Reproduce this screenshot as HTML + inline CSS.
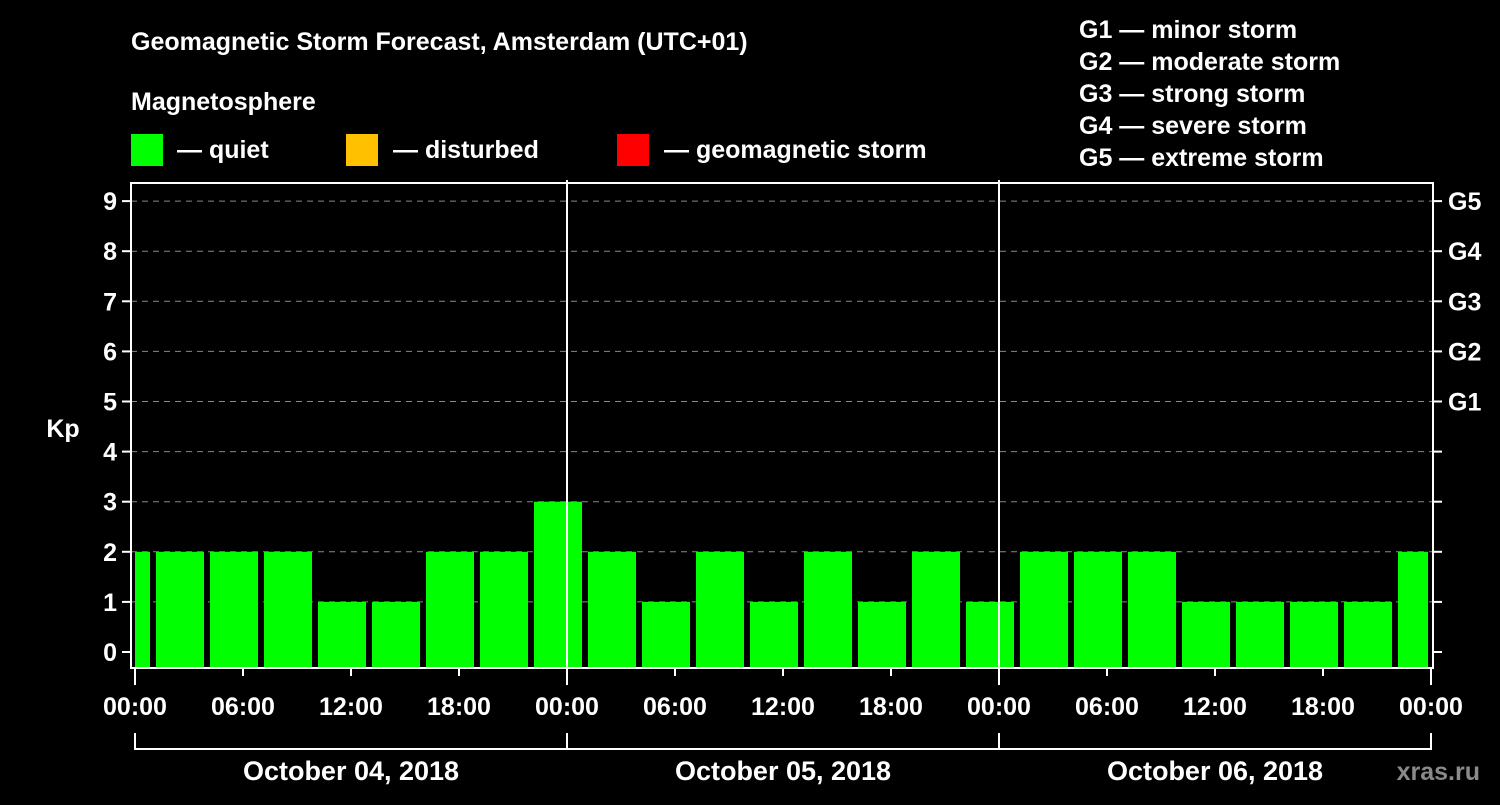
<!DOCTYPE html>
<html><head><meta charset="utf-8"><style>
body{margin:0;background:#000;width:1500px;height:800px;overflow:hidden}
text{font-family:"Liberation Sans",sans-serif;font-weight:bold;fill:#fff}
</style></head><body>
<svg id="c" width="1500" height="800" xmlns="http://www.w3.org/2000/svg">
<text x="131" y="50" font-size="25">Geomagnetic Storm Forecast, Amsterdam (UTC+01)</text>
<text x="131" y="110" font-size="25">Magnetosphere</text>
<g>
<rect x="131" y="134" width="32" height="32" fill="#00ff00"/>
<text x="177" y="158" font-size="25">— quiet</text>
<rect x="346" y="134" width="32" height="32" fill="#ffc000"/>
<text x="393" y="158" font-size="25">— disturbed</text>
<rect x="617" y="134" width="32" height="32" fill="#ff0000"/>
<text x="664" y="158" font-size="25">— geomagnetic storm</text>
</g>
<g font-size="25">
<text x="1079" y="38">G1 — minor storm</text>
<text x="1079" y="70">G2 — moderate storm</text>
<text x="1079" y="102">G3 — strong storm</text>
<text x="1079" y="134">G4 — severe storm</text>
<text x="1079" y="166">G5 — extreme storm</text>
</g>
<text x="63" y="437" font-size="25" text-anchor="middle">Kp</text>
<text x="1480" y="780" font-size="25" text-anchor="end" fill="#888" style="fill:#8a8a8a">xras.ru</text>
<g id="grid"></g><g id="bars"></g><g id="axes"></g>
</svg>
<script>
const kpValues=[2,2,2,2,1,1,2,2,3,2,1,2,1,2,1,2,1,2,2,2,1,1,1,1,2];
const kpTicks=[0,1,2,3,4,5,6,7,8,9];
const gLabels=["","","","","","G1","G2","G3","G4","G5"];
const hourLabels=["00:00","06:00","12:00","18:00"];
const dayLabels=["October 04, 2018","October 05, 2018","October 06, 2018"];
const NS="http://www.w3.org/2000/svg";
const L=131,R=1433,T=183,B=668,X0=135,PXH=18;
const y=v=>652-50.1*v;
const x=h=>X0+h*PXH;
function mk(p,tag,a){const e=document.createElementNS(NS,tag);for(const k in a)e.setAttribute(k,a[k]);document.getElementById(p).appendChild(e);return e;}
kpTicks.forEach(v=>{
 if(v>0&&v<=9){const g=mk('grid','line',{x1:L,x2:R,y1:y(v),y2:y(v),stroke:'#888','stroke-dasharray':'6,5','stroke-width':1});
 
 }
 const t=mk('axes','line',{x1:L-9,x2:L,y1:y(v),y2:y(v),stroke:'#fff','stroke-width':2});
 
 
 const t2=mk('axes','line',{x1:R,x2:R+9,y1:y(v),y2:y(v),stroke:'#fff','stroke-width':2});
 
 
 const lb=mk('axes','text',{x:L-14,y:y(v)+9,'font-size':25,'text-anchor':'end'});lb.textContent=v;
 
 
 if(gLabels[v]){const gl=mk('axes','text',{x:R+15,y:y(v)+9,'font-size':25});gl.textContent=gLabels[v];
 
 }
});
kpValues.forEach((v,i)=>{
 let h0=-2+3*i,h1=h0+3;
 let a=Math.max(x(h0)+3,x(0)),b=Math.min(x(h1)-3,x(72)-3);
 const r=mk('bars','rect',{x:a,y:y(v),width:b-a,height:B-y(v),fill:v>=5?'#ff0000':v>=4?'#ffc000':'#00ff00'});
 
 
});
const fr=mk('axes','rect',{x:L,y:T,width:R-L,height:B-T,fill:'none',stroke:'#fff','stroke-width':2});


for(let d=1;d<3;d++){const l=mk('axes','line',{x1:x(24*d),x2:x(24*d),y1:180,y2:B,stroke:'#fff','stroke-width':2});
 
 }
for(let k=0;k<=12;k++){const h=k*6;
 const t=mk('axes','line',{x1:x(h),x2:x(h),y1:B,y2:B+(h%24==0?17:8),stroke:'#fff','stroke-width':2});
 
 
 const lb=mk('axes','text',{x:x(h),y:715,'font-size':25,'text-anchor':'middle'});lb.textContent=hourLabels[k%4];
 
 }
mk('axes','line',{x1:x(0),x2:x(72),y1:749,y2:749,stroke:'#fff','stroke-width':2});
dayLabels.forEach((d,i)=>{
 const v=mk('axes','line',{x1:x(24*i),x2:x(24*i),y1:733,y2:750,stroke:'#fff','stroke-width':2});
 
 
 const lb=mk('axes','text',{x:x(24*i+12),y:780,'font-size':27,'text-anchor':'middle'});lb.textContent=d;
 
 });
const v3=mk('axes','line',{x1:x(72),x2:x(72),y1:733,y2:750,stroke:'#fff','stroke-width':2});


</script>
</body></html>
